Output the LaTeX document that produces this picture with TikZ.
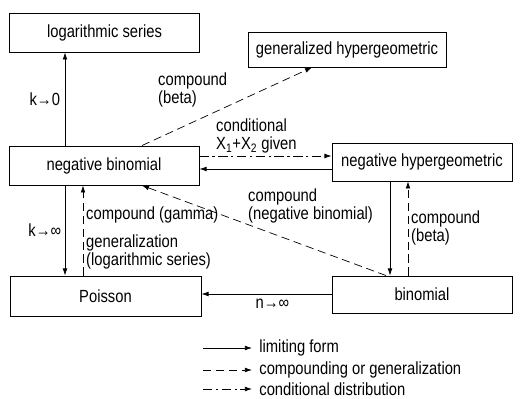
\documentclass[tikz,border=0pt]{standalone}
\usepackage{fontspec}
\setmainfont[FakeStretch=0.84]{Liberation Sans}
\usetikzlibrary{arrows.meta}

\tikzset{
  dist/.style={draw,line width=0.8pt,inner sep=0pt},
  limiting/.style={line width=0.6pt,-{Latex[length=6pt,width=4pt]}},
  compounding/.style={limiting,dash pattern=on 7pt off 4pt},
  conditional/.style={limiting,dash pattern=on 8pt off 3pt on 2pt off 3pt},
  lbl/.style={inner sep=0pt,align=left}
}

\begin{document}
\begin{tikzpicture}[x=0.03cm,y=-0.03cm,font=\fontsize{15}{16}\selectfont]
\useasboundingbox (0,0) rectangle (520,399);
\foreach \name/\x/\y/\w/\h/\txt in
{logser/104.5/32.5/5.7/1.17/logarithmic series,
genhyp/347/49.5/5.94/1.05/generalized hypergeometric,
negbin/104/165.5/5.7/1.17/negative binomial,
neghyp/422/162/5.4/1.14/negative hypergeometric,
poisson/105.5/296/5.73/1.2/Poisson,
binom/422/294.5/5.4/1.11/binomial}
\node[dist,minimum width=\w cm,minimum height=\h cm] (\name) at (\x,\y) {\txt};

\coordinate (k) at (65,0);
\coordinate (g) at (83,0);
\coordinate (d) at (142,0);
\coordinate (h) at (312,0);
\coordinate (e) at (386,0);
\coordinate (c) at (390,0);
\coordinate (s) at (408,0);
\coordinate (cd) at (0,156);
\coordinate (bk) at (0,169);
\coordinate (ni) at (0,294);

\draw[limiting] (negbin.north -| k) -- (logser.south -| k) node[lbl,midway,left=4pt] (kzero) {k→0};
\draw[limiting] (negbin.south -| k) -- (poisson.north -| k) node[lbl,midway,left=3pt] (kinf) {k→∞};
\draw[compounding] (poisson.north -| g) -- (negbin.south -| g);
\node[lbl,anchor=west] (gamma) at (86,215) {compound (gamma)};
\node[lbl,anchor=west] (genlog) at (86,252) {generalization\\(logarithmic series)};

\draw[compounding] (negbin.north -| d) -- (genhyp.south -| h);
\node[lbl,anchor=west] (betaup) at (158,90) {compound\\(beta)};

\draw[conditional] (negbin.east |- cd) -- (neghyp.west |- cd);
\node[lbl,anchor=west] (cond) at (216,136) {conditional\\X\textsubscript{1}+X\textsubscript{2} given};
\draw[limiting] (neghyp.west |- bk) -- (negbin.east |- bk);

\draw[compounding] (binom.north -| e) -- (negbin.south -| d);
\node[lbl,anchor=west] (cnb) at (248,206) {compound\\(negative binomial)};

\draw[limiting] (neghyp.south -| c) -- (binom.north -| c);
\draw[compounding] (binom.north -| s) -- (neghyp.south -| s);
\node[lbl,anchor=west] (betadn) at (411,228) {compound\\(beta)};

\draw[limiting] (binom.west |- ni) -- (poisson.east |- ni) node[lbl,midway,below=4pt,xshift=5pt] (ninf) {n→∞};

\foreach \sty/\txt/\y in
{limiting/limiting form/348,
compounding/compounding or generalization/370,
conditional/conditional distribution/389}
{
\coordinate (l\y) at (203,\y);
\coordinate (m\y) at (252,\y);
\draw[\sty] (l\y) -- (m\y) node[lbl,right=6pt] {\txt};
}
\end{tikzpicture}
\end{document}
